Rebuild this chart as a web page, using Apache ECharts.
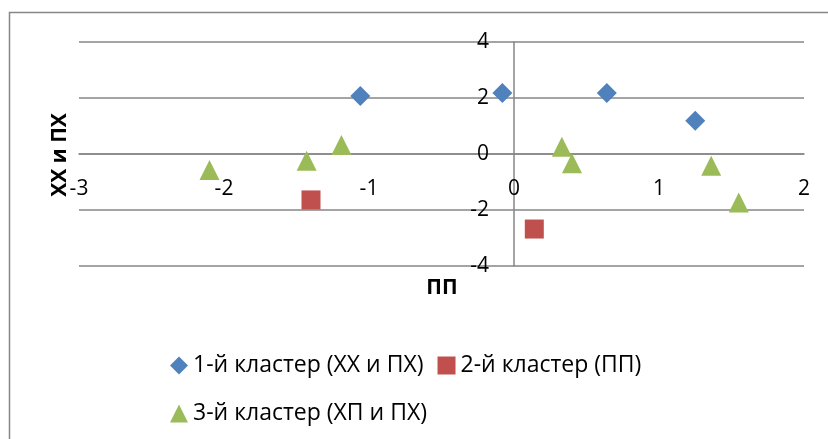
<!DOCTYPE html>
<html><head><meta charset="utf-8">
<script src="https://cdn.jsdelivr.net/npm/echarts@6/dist/echarts.min.js"></script>
<style>html,body{margin:0;padding:0;background:#fff}#c{width:828px;height:439px}</style>
</head><body><div id="c"></div>
<script>
const seriesNames = ['1-й кластер (ХХ и ПХ)', '2-й кластер (ПП)', '3-й кластер (ХП и ПХ)'];
const cluster1 = [[-1.06, 2.07], [-0.08, 2.18], [0.64, 2.18], [1.25, 1.19]];
const cluster2 = [[-1.40, -1.64], [0.14, -2.68]];
const cluster3 = [[-2.10, -0.57], [-1.43, -0.24], [-1.19, 0.32], [0.33, 0.26], [0.40, -0.33], [1.36, -0.42], [1.55, -1.73]];
const xTitle = 'ПП';
const yTitle = 'ХХ и ПХ';
const xMin = -3, xMax = 2, xStep = 1;
const yMin = -4, yMax = 4, yStep = 2;

const FONT = '"Open Sans", "Liberation Sans", sans-serif';
const colors = ['#4F81BD', '#C0504D', '#9BBB59'];
const gridL = 79, gridR = 24, gridT = 42, gridB = 173;
const W = 828, H = 439;
const plotW = W - gridL - gridR, plotH = H - gridT - gridB;
// axis crossing positions (offset from grid edges, derived from the scales)
const xCrossOffset = -plotH * (0 - yMin) / (yMax - yMin);
const yCrossOffset = -plotW * (0 - xMin) / (xMax - xMin);

const chart = echarts.init(document.getElementById('c'), null, {renderer: 'canvas'});
chart.setOption({
  animation: false,
  textStyle: {fontFamily: FONT},
  grid: {left: gridL, right: gridR, top: gridT, bottom: gridB, containLabel: false},
  xAxis: {
    type: 'value', min: xMin, max: xMax, interval: xStep, position: 'bottom', offset: xCrossOffset,
    axisLine: {onZero: false, lineStyle: {color: '#868686', width: 1.5}},
    axisTick: {show: false},
    splitLine: {show: false},
    axisLabel: {color: '#000', fontSize: 21, margin: 25, fontFamily: FONT}
  },
  yAxis: {
    type: 'value', min: yMin, max: yMax, interval: yStep, position: 'left', offset: yCrossOffset,
    axisLine: {show: true, onZero: false, lineStyle: {color: '#868686', width: 1.5}},
    axisTick: {show: false},
    splitLine: {show: true, lineStyle: {color: '#868686', width: 1.5}},
    axisLabel: {color: '#000', fontSize: 21, margin: 25, fontFamily: FONT}
  },
  legend: [
    {data: [seriesNames[0], seriesNames[1]], left: 165, top: 349, itemWidth: 18, itemHeight: 18, itemGap: 14,
     textStyle: {fontSize: 23, color: '#000', fontFamily: FONT}},
    {data: [seriesNames[2]], left: 165, top: 397, itemWidth: 18, itemHeight: 18,
     textStyle: {fontSize: 23, color: '#000', fontFamily: FONT}}
  ],
  graphic: [
    {type: 'rect', shape: {x: 9.5, y: 12.5, width: 840, height: 440}, style: {fill: 'none', stroke: '#868686', lineWidth: 1.5}, silent: true},
    {type: 'text', x: 60, y: 155, rotation: Math.PI / 2, style: {text: yTitle, font: 'bold 21px ' + FONT, fill: '#000', align: 'center', verticalAlign: 'middle'}},
    {type: 'text', x: 442, y: 288, style: {text: xTitle, font: 'bold 21px ' + FONT, fill: '#000', align: 'center', verticalAlign: 'middle'}}
  ],
  series: [
    {name: seriesNames[0], type: 'scatter', data: cluster1, symbol: 'diamond', symbolSize: 20, itemStyle: {color: colors[0], opacity: 1}},
    {name: seriesNames[1], type: 'scatter', data: cluster2, symbol: 'rect', symbolSize: 19, itemStyle: {color: colors[1], opacity: 1}},
    {name: seriesNames[2], type: 'scatter', data: cluster3, symbol: 'triangle', symbolSize: 20, itemStyle: {color: colors[2], opacity: 1}}
  ]
});
</script></body></html>
